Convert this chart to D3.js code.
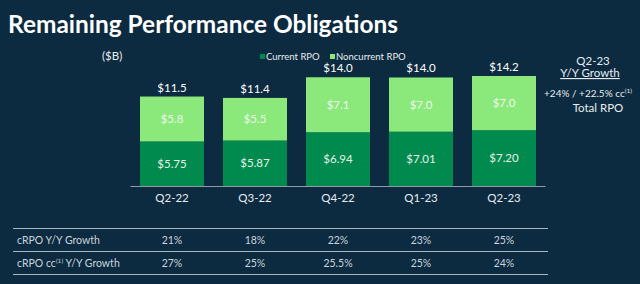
<!DOCTYPE html>
<html>
<head>
<meta charset="utf-8">
<script src="https://cdn.jsdelivr.net/npm/d3@7"></script>
<style>
  html, body { margin: 0; padding: 0; background: #0c2a40; }
  svg { display: block; font-family: Lato, "DejaVu Sans", sans-serif; }
</style>
</head>
<body>
<svg id="chart"></svg>
<script>
var quarters = ["Q2-22", "Q3-22", "Q4-22", "Q1-23", "Q2-23"];
var currentRPO = [5.75, 5.87, 6.94, 7.01, 7.20];
var noncurrentRPO = [5.8, 5.5, 7.1, 7.0, 7.0];
var totalRPO = [11.5, 11.4, 14.0, 14.0, 14.2];
var rowLabels = ["cRPO Y/Y Growth", "cRPO cc Y/Y Growth"];
var crpoGrowth = ["21%", "18%", "22%", "23%", "25%"];
var crpoCcGrowth = ["27%", "25%", "25.5%", "25%", "24%"];

var width = 640, height = 284;
var darkGreen = "#008a4e", lightGreen = "#8be87a", tableText = "#c9d5dd";

var svg = d3.select("#chart").attr("width", width).attr("height", height);

svg.append("rect").attr("width", width).attr("height", height).attr("fill", "#0c2a40");

// title
svg.append("text")
  .attr("x", 8).attr("y", 33)
  .attr("font-size", 25).attr("font-weight", "bold")
  .attr("fill", "#ffffff")
  .attr("textLength", 390).attr("lengthAdjust", "spacingAndGlyphs")
  .text("Remaining Performance Obligations");

svg.append("text").attr("x", 102).attr("y", 60)
  .attr("font-size", 11.5).attr("fill", "#e6ecef").text("($B)");

// legend
var legend = [["Current RPO", darkGreen, 260], ["Noncurrent RPO", lightGreen, 330]];
legend.forEach(function(l) {
  svg.append("rect").attr("x", l[2]).attr("y", 54).attr("width", 5).attr("height", 5).attr("fill", l[1]);
  svg.append("text").attr("x", l[2] + 6).attr("y", 59.5)
    .attr("font-size", 9.5).attr("fill", "#e6ecef").text(l[0]);
});

var x = d3.scaleBand().domain(quarters).range([130.5, 545.5])
  .paddingInner(0.229).paddingOuter(0.1145);
var y = d3.scaleLinear().domain([0, 14.2]).range([186, 76]);

var data = quarters.map(function(q, i) {
  return {q: q, cur: currentRPO[i], non: noncurrentRPO[i], tot: totalRPO[i]};
});

var g = svg.append("g");
// current
g.selectAll(".cur").data(data).enter().append("rect")
  .attr("x", function(d) { return x(d.q); })
  .attr("width", x.bandwidth())
  .attr("y", function(d) { return y(d.cur); })
  .attr("height", function(d) { return y(0) - y(d.cur); })
  .attr("fill", darkGreen);
// noncurrent
g.selectAll(".non").data(data).enter().append("rect")
  .attr("x", function(d) { return x(d.q); })
  .attr("width", x.bandwidth())
  .attr("y", function(d) { return y(d.cur + d.non); })
  .attr("height", function(d) { return y(d.cur) - y(d.cur + d.non); })
  .attr("fill", lightGreen);

var cx = function(d) { return x(d.q) + x.bandwidth() / 2; };

g.selectAll(".curLab").data(data).enter().append("text")
  .attr("x", cx)
  .attr("y", function(d) { return (y(0) + y(d.cur)) / 2 + 4; })
  .attr("text-anchor", "middle").attr("font-size", 11.5).attr("fill", "#e4f3e6")
  .text(function(d) { return "$" + d.cur.toFixed(2); });

g.selectAll(".nonLab").data(data).enter().append("text")
  .attr("x", cx)
  .attr("y", function(d) { return (y(d.cur) + y(d.cur + d.non)) / 2 + 4; })
  .attr("text-anchor", "middle").attr("font-size", 11.5).attr("fill", "#eef8ee")
  .text(function(d) { return "$" + d.non.toFixed(1); });

g.selectAll(".totLab").data(data).enter().append("text")
  .attr("x", cx)
  .attr("y", function(d) { return y(d.cur + d.non) - 5; })
  .attr("text-anchor", "middle").attr("font-size", 11.5).attr("fill", "#ffffff")
  .text(function(d) { return "$" + d.tot.toFixed(1); });

// x axis
var xAxis = d3.axisBottom(x).tickSize(0).tickPadding(8);
var ax = svg.append("g").attr("transform", "translate(0,186)").call(xAxis);
ax.select(".domain").attr("stroke", "#8e9ba5").attr("d", "M130.5,0.5H545.5");
ax.selectAll("text").attr("font-size", 11.5).attr("fill", "#e6ecef")
  .attr("font-family", "Lato, sans-serif");

// right annotation
var ann = svg.append("g").attr("font-size", 11.5).attr("fill", "#e6ecef").attr("text-anchor", "middle");
ann.append("text").attr("x", 593).attr("y", 65).text("Q2-23");
ann.append("text").attr("x", 590).attr("y", 77).attr("text-decoration", "underline").text("Y/Y Growth");
var t = ann.append("text").attr("x", 588).attr("y", 97).attr("font-size", 10);
t.append("tspan").text("+24% / +22.5% cc");
t.append("tspan").attr("font-size", 6.5).attr("dy", -4).text("(1)");
ann.append("text").attr("x", 598).attr("y", 112).text("Total RPO");

// table
[228.5, 251.5, 274.5].forEach(function(ly) {
  svg.append("line").attr("x1", 13).attr("x2", 548).attr("y1", ly).attr("y2", ly)
    .attr("stroke", "#a9b6bf").attr("stroke-width", 1);
});
var rows = [crpoGrowth, crpoCcGrowth];
var rowY = [244, 267];
rows.forEach(function(vals, r) {
  var lab = svg.append("text").attr("x", 17).attr("y", rowY[r])
    .attr("font-size", 10.5).attr("fill", tableText);
  if (r === 0) {
    lab.text(rowLabels[0]);
  } else {
    lab.append("tspan").text("cRPO cc");
    lab.append("tspan").attr("font-size", 6.5).attr("dy", -4).text("(1)");
    lab.append("tspan").attr("dy", 4).text(" Y/Y Growth");
  }
  svg.selectAll(".row" + r).data(vals).enter().append("text")
    .attr("x", function(d, i) { return x(quarters[i]) + x.bandwidth() / 2; })
    .attr("y", rowY[r])
    .attr("text-anchor", "middle").attr("font-size", 10.5).attr("fill", tableText)
    .text(function(d) { return d; });
});
</script>
</body>
</html>
